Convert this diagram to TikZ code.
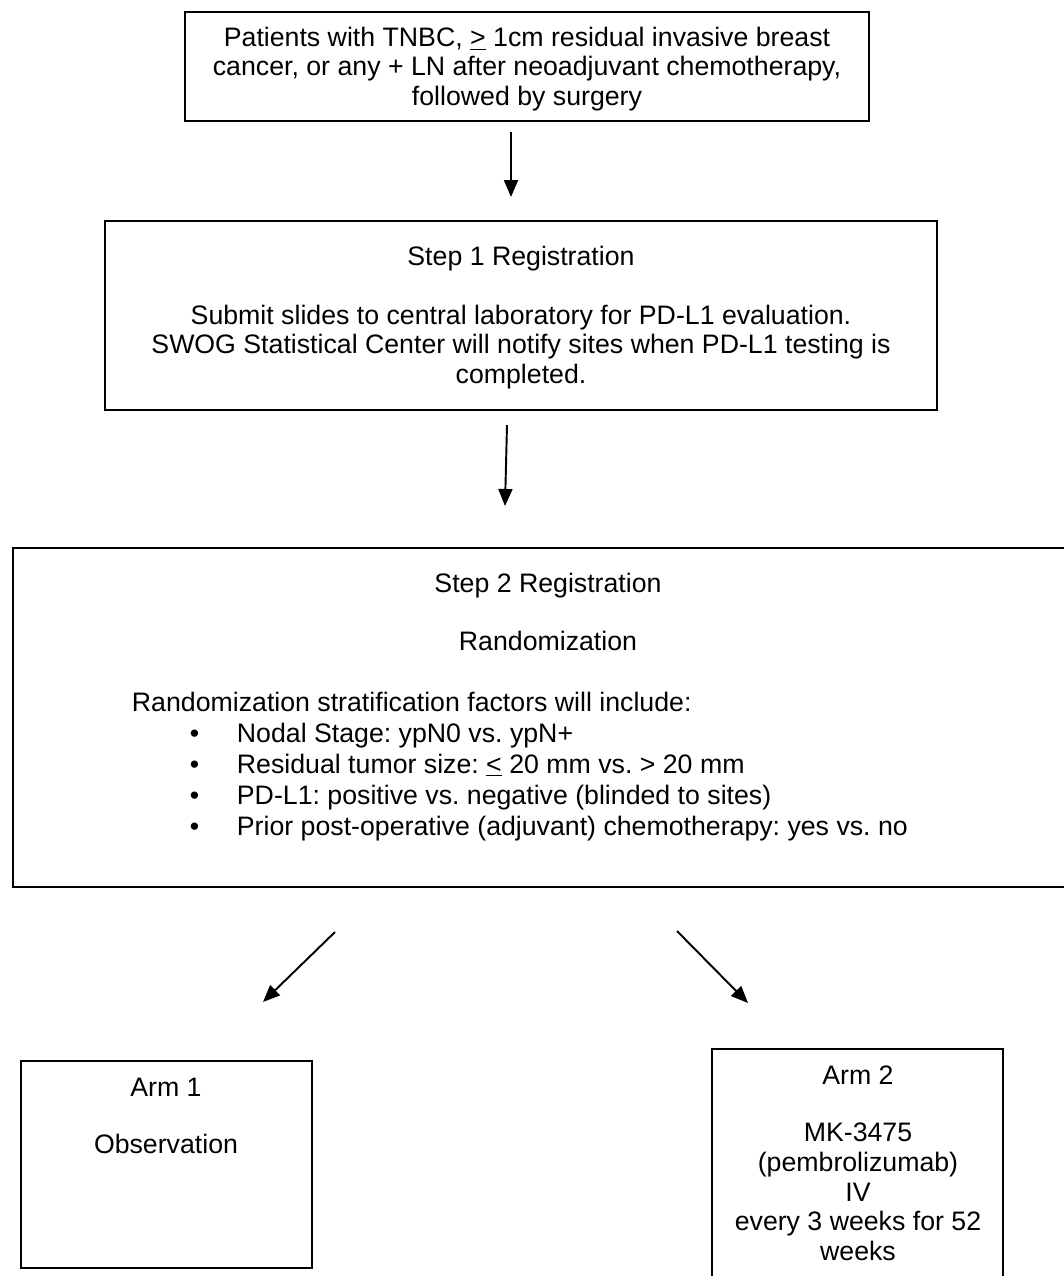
\documentclass[tikz,border=0pt]{standalone}
\usepackage{fontspec}
\setmainfont{Liberation Sans}
\usetikzlibrary{arrows.meta}
\frenchspacing

\begin{document}
\begin{tikzpicture}[x=0.02cm,y=-0.02cm,line width=1.1pt,>={Triangle[length=0.34cm,width=0.28cm]},
  box/.style={draw,inner sep=0pt,align=center,font=\fontsize{15.2}{16.8}\selectfont},
  txt/.style={inner sep=0pt,align=center,font=\fontsize{15.2}{16.8}\selectfont}]
\useasboundingbox (0,0) rectangle (1064,1276);
\clip (0,0) rectangle (1064,1276);
% eligibility
\node[box,minimum width=13.68cm,minimum height=2.18cm] (elig) at (527,66.5) {};
\node[txt] (eligtxt) at (527,69)
  {Patients with TNBC, \underline{>} 1cm residual invasive breast\\
   cancer, or any + LN after neoadjuvant chemotherapy,\\
   followed by surgery};
% step 1
\node[box,minimum width=16.64cm,minimum height=3.78cm] (step1) at (521,315.5) {};
\node[txt] (step1txt) at (521,317.5)
  {Step 1 Registration\\[16.7pt]
   Submit slides to central laboratory for PD-L1 evaluation.\\
   SWOG Statistical Center will notify sites when PD-L1 testing is\\
   completed.};
% step 2, runs past the right edge
\node[box,minimum width=21.74cm,minimum height=6.78cm] (step2) at (556.5,717.5) {};
\node[txt] (step2head) at (548,612) {Step 2 Registration\\[16pt]Randomization};
\node[txt,align=left,anchor=north west,font=\fontsize{15.2}{17.6}\selectfont] (strat) at (131,691)
  {Randomization stratification factors will include:\\
   \hspace*{1.16cm}\makebox[0.94cm][l]{\textbullet}Nodal Stage: ypN0 vs. ypN+\\
   \hspace*{1.16cm}\makebox[0.94cm][l]{\textbullet}Residual tumor size: \underline{<} 20 mm vs. > 20 mm\\
   \hspace*{1.16cm}\makebox[0.94cm][l]{\textbullet}PD-L1: positive vs. negative (blinded to sites)\\
   \hspace*{1.16cm}\makebox[0.94cm][l]{\textbullet}Prior post-operative (adjuvant) chemotherapy: yes vs. no};
% arms
\node[box,minimum width=5.82cm,minimum height=4.14cm] (arm1) at (166.5,1164.5) {};
\node[txt] (arm1txt) at (166,1116) {Arm 1\\[16pt]Observation};
\node[box,minimum width=5.82cm,minimum height=5.02cm] (arm2) at (857.5,1174.5) {};
\node[txt] (arm2txt) at (858,1163)
  {Arm 2\\[16pt]MK-3475\\(pembrolizumab)\\IV\\every 3 weeks for 52\\weeks};
% arrows
\coordinate (a1s) at (511,132); \coordinate (a1e) at (511,197);
\coordinate (a2s) at (507,425); \coordinate (a2e) at (505,506);
\coordinate (a3s) at (335,932); \coordinate (a3e) at (263,1002);
\coordinate (a4s) at (677,931); \coordinate (a4e) at (748,1003);
\draw[->] (a1s) -- (a1e);
\draw[->] (a2s) -- (a2e);
\draw[->] (a3s) -- (a3e);
\draw[->] (a4s) -- (a4e);
\end{tikzpicture}
\end{document}
